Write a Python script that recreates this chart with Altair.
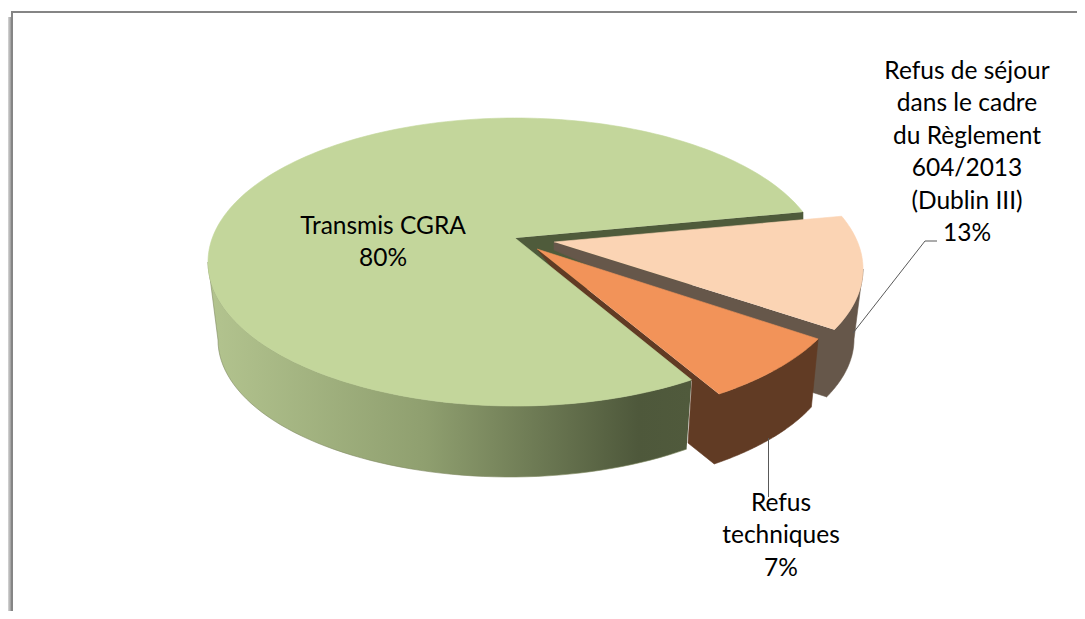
import math
import altair as alt
import pandas as pd

# ---- chart values
names = ["Transmis CGRA", "Refus de séjour dans le cadre du Règlement 604/2013 (Dublin III)", "Refus techniques"]
values = [80, 13, 7]

label_lines = [
    ["Transmis CGRA", "80%"],
    ["Refus de séjour", "dans le cadre", "du Règlement", "604/2013", "(Dublin III)", "13%"],
    ["Refus", "techniques", "7%"],
]

# ---- drawing geometry (projection of the tilted pie)
TOP_AB = (307, 144)
BOT_AB = (292, 137)
top_centres = [(515, 262), (556, 269), (541.5, 276.5)]
bot_centres = [(510, 340), (562, 339), (543, 353)]
apexes = [(515, 238), (554, 242), (537, 249)]
first_angle = 54.9
perspective_fix = [-3.2, -0.4, 3.8]
angle_drift = [0, -1.2, -0.4]

spans = [v * 3.6 + f for v, f in zip(values, perspective_fix)]
starts = []
acc = first_angle
for s in spans:
    starts.append(acc)
    acc += s
t_ranges = [(st + d, st + d + sp) for st, sp, d in zip(starts, spans, angle_drift)]


def arc(centre, ab, a0, a1, n=60):
    out = []
    for k in range(n + 1):
        t = math.radians(a0 + (a1 - a0) * k / n)
        out.append((centre[0] + ab[0] * math.cos(t), centre[1] + ab[1] * math.sin(t)))
    return out


X = alt.X("px:Q", scale=alt.Scale(domain=[8, 1077], nice=False, zero=False), axis=None)
Y = alt.Y("py:Q", scale=alt.Scale(domain=[611, 8], nice=False, zero=False), axis=None)


def shape(points, fill, stroke=None):
    df = pd.DataFrame(points, columns=["px", "py"])
    df["i"] = range(len(df))
    col = stroke if stroke else (fill if isinstance(fill, str) else "#7f8a62")
    return (
        alt.Chart(df)
        .mark_line(fill=fill, stroke=col, strokeWidth=0.6, interpolate="linear")
        .encode(x=X, y=Y, order=alt.Order("i:Q"))
    )


def stroke_line(points, color, width):
    df = pd.DataFrame(points, columns=["px", "py"])
    df["i"] = range(len(df))
    return (
        alt.Chart(df)
        .mark_line(color=color, strokeWidth=width)
        .encode(x=X, y=Y, order=alt.Order("i:Q"))
    )


# frame and shadow
shadow = pd.DataFrame({"px": [8], "px2": [11], "py": [17], "py2": [611]})
shadow_mark = (
    alt.Chart(shadow)
    .mark_rect(
        fill=alt.Gradient(
            gradient="linear",
            x1=0, x2=1, y1=0, y2=0,
            stops=[alt.GradientStop(color="#d8d8d8", offset=0), alt.GradientStop(color="#9a9a9a", offset=1)],
        )
    )
    .encode(x=X, x2="px2:Q", y=Y, y2="py2:Q")
)
frame = stroke_line([(1077, 12), (12, 12), (12, 611)], "#858585", 2)

# side walls
green_side = alt.Gradient(
    gradient="linear",
    x1=0, x2=1, y1=0, y2=0,
    stops=[
        alt.GradientStop(color="#b3c48f", offset=0),
        alt.GradientStop(color="#8f9f6f", offset=0.45),
        alt.GradientStop(color="#4e583b", offset=0.89),
        alt.GradientStop(color="#505a3c", offset=1),
    ],
)
g0, g1 = t_ranges[0]
green_wall_pts = arc(top_centres[0], TOP_AB, g0, 180) + arc(bot_centres[0], BOT_AB, 180, 52.8)
green_cut_pts = [apexes[0], (803, 212), (803, 280), (560, 290)]

p0, p1 = t_ranges[1]
peach_wall_pts = (
    [apexes[1], (554, 250), (600, 270), (805, 390), (827, 397)]
    + arc(bot_centres[1], BOT_AB, 25, 0)
    + arc(top_centres[1], TOP_AB, 0, p1 - 360)
)

o0, o1 = t_ranges[2]
orange_wall_pts = (
    [apexes[2], (553, 269), (692, 381), (688, 443)]
    + arc(bot_centres[2], BOT_AB, 54.1, 23.2)
    + arc(top_centres[2], TOP_AB, o0 - 360, o1 - 360)
)

# tops
green_top = [apexes[0]] + arc(top_centres[0], TOP_AB, g0, g1, 200)
peach_top = [apexes[1]] + arc(top_centres[1], TOP_AB, p0, p1)
orange_top = [apexes[2]] + arc(top_centres[2], TOP_AB, o0, o1)

# leader lines
leader_a = stroke_line([(853, 333), (925, 241), (937, 241)], "#595959", 1)
leader_b = stroke_line([(768.5, 438), (768.5, 497)], "#595959", 1)

# labels
label_anchor = [(383, 226.5), (967, 72), (781, 504)]
rows = []
for lines, (lx, ly) in zip(label_lines, label_anchor):
    for k, s in enumerate(lines):
        rows.append({"px": lx, "py": ly + k * 32.4, "txt": s})
labels = (
    alt.Chart(pd.DataFrame(rows))
    .mark_text(font="Lato", fontSize=24.5, color="#000000", align="center", baseline="middle")
    .encode(x=X, y=Y, text="txt:N")
)

chart = alt.layer(
    shadow_mark,
    frame,
    shape(green_cut_pts, "#4f5b3b"),
    shape(green_wall_pts, green_side),
    shape(peach_wall_pts, "#66574a"),
    shape(orange_wall_pts, "#613b24"),
    shape(green_top, "#c3d69b"),
    shape(peach_top, "#fbd4b4"),
    shape(orange_top, "#f29359"),
    leader_a,
    leader_b,
    labels,
).properties(
    width=1069, height=603, padding=0, autosize=alt.AutoSizeParams(type="none"),
    background="white",
).configure_view(stroke=None)

chart.save("out.html", embed_options={"renderer": "svg", "actions": False})
